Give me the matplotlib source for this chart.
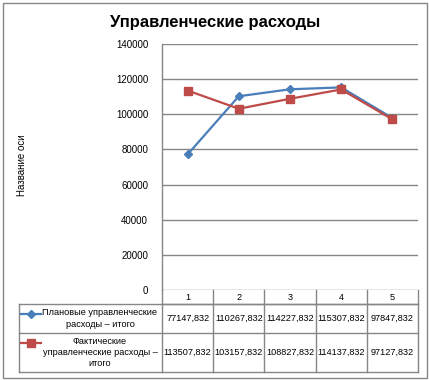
import matplotlib
matplotlib.use("Agg")
import matplotlib.pyplot as plt
from matplotlib.lines import Line2D
from matplotlib.patches import Rectangle
from matplotlib.transforms import blended_transform_factory

plt.rcParams['font.family'] = ['Liberation Sans', 'DejaVu Sans']

title = "Управленческие расходы"
y_label = "Название оси"
categories = ["1", "2", "3", "4", "5"]
series_names = ["Плановые управленческие\nрасходы – итого",
                "Фактические\nуправленческие расходы –\nитого"]
plan = [77147.832, 110267.832, 114227.832, 115307.832, 97847.832]
fact = [113507.832, 103157.832, 108827.832, 114137.832, 97127.832]
y_ticks = [0, 20000, 40000, 60000, 80000, 100000, 120000, 140000]

W, H = 429, 380
fig = plt.figure(figsize=(W / 100, H / 100), dpi=100)

def fx(x):
    return x / W

def fy(y):
    return 1 - y / H

L, R, T, B = 162, 418, 44, 290
ax = fig.add_axes([fx(L), fy(B), fx(R) - fx(L), fy(T) - fy(B)])

blue = "#4A7EBB"
red = "#BE4B48"
grid = "#868686"
xs = list(range(1, len(categories) + 1))
tfs = 6.6

ax.plot(xs, plan, color=blue, lw=1.6, marker="D", ms=4.5, mfc=blue, mec=blue, zorder=3)
ax.plot(xs, fact, color=red, lw=1.6, marker="s", ms=6, mfc=red, mec=red, zorder=3)

ax.set_xlim(0.5, len(categories) + 0.5)
ax.set_ylim(0, 140000)
ax.set_yticks(y_ticks)
ax.set_yticklabels([str(t) for t in y_ticks], fontsize=7)
ax.set_xticks([])
ax.tick_params(axis="y", length=0, pad=10)
ax.yaxis.grid(True, color=grid, lw=1)
ax.set_axisbelow(True)
for s in ["top", "right", "bottom"]:
    ax.spines[s].set_visible(False)
ax.spines["left"].set_color(grid)
ax.spines["left"].set_linewidth(1)

fig.text(fx(215), fy(22), title, fontsize=12, fontweight="bold", ha="center", va="center")
fig.text(fx(22), fy(165), y_label, fontsize=7, rotation=90, ha="center", va="center")

# Data table
tr = blended_transform_factory(ax.transData, fig.transFigure)
trf = fig.transFigure
row_hdr_b, row1_b, row2_b = 304, 333, 372
tbl_left = 19
lc = dict(color=grid, lw=1)

fig.add_artist(Line2D([0.5, len(categories) + 0.5], [fy(row_hdr_b)] * 2, transform=tr, **lc))
fig.add_artist(Line2D([fx(tbl_left), fx(R)], [fy(row_hdr_b)] * 2, transform=trf, **lc))
fig.add_artist(Line2D([fx(tbl_left), fx(R)], [fy(row1_b)] * 2, transform=trf, **lc))
fig.add_artist(Line2D([fx(tbl_left), fx(R)], [fy(row2_b)] * 2, transform=trf, **lc))
for i in range(len(categories) + 1):
    fig.add_artist(Line2D([0.5 + i] * 2, [fy(B), fy(row2_b)], transform=tr, **lc))
fig.add_artist(Line2D([fx(tbl_left)] * 2, [fy(row_hdr_b), fy(row2_b)], transform=trf, **lc))

for x, c in zip(xs, categories):
    fig.text(x, fy((B + row_hdr_b) / 2 + 1), c, transform=tr, fontsize=tfs, ha="center", va="center")

rows = [(plan, row_hdr_b, row1_b), (fact, row1_b, row2_b)]
for vals, top, bot in rows:
    for x, v in zip(xs, vals):
        fig.text(x, fy((top + bot) / 2), f"{v:.3f}".replace(".", ","), transform=tr,
                 fontsize=tfs, ha="center", va="center")

fig.text(fx(100), fy((row_hdr_b + row1_b) / 2), series_names[0], fontsize=tfs,
         ha="center", va="center", linespacing=1.3)
fig.text(fx(100), fy((row1_b + row2_b) / 2), series_names[1], fontsize=tfs,
         ha="center", va="center", linespacing=1.3)
fig.add_artist(Line2D([fx(21), fx(41)], [fy(314)] * 2, transform=trf, color=blue, lw=1.6))
fig.add_artist(Line2D([fx(31)], [fy(314)], transform=trf, color=blue, marker="D", ms=4.5, lw=0))
fig.add_artist(Line2D([fx(21), fx(41)], [fy(343)] * 2, transform=trf, color=red, lw=1.6))
fig.add_artist(Line2D([fx(31)], [fy(343)], transform=trf, color=red, marker="s", ms=6, lw=0))

fig.add_artist(Rectangle((fx(2.5), fy(377.5)), fx(424.5), fy(2.5) - fy(377.5),
                         transform=trf, fill=False, edgecolor=grid, lw=1))

fig.savefig("out.png", dpi=100)
